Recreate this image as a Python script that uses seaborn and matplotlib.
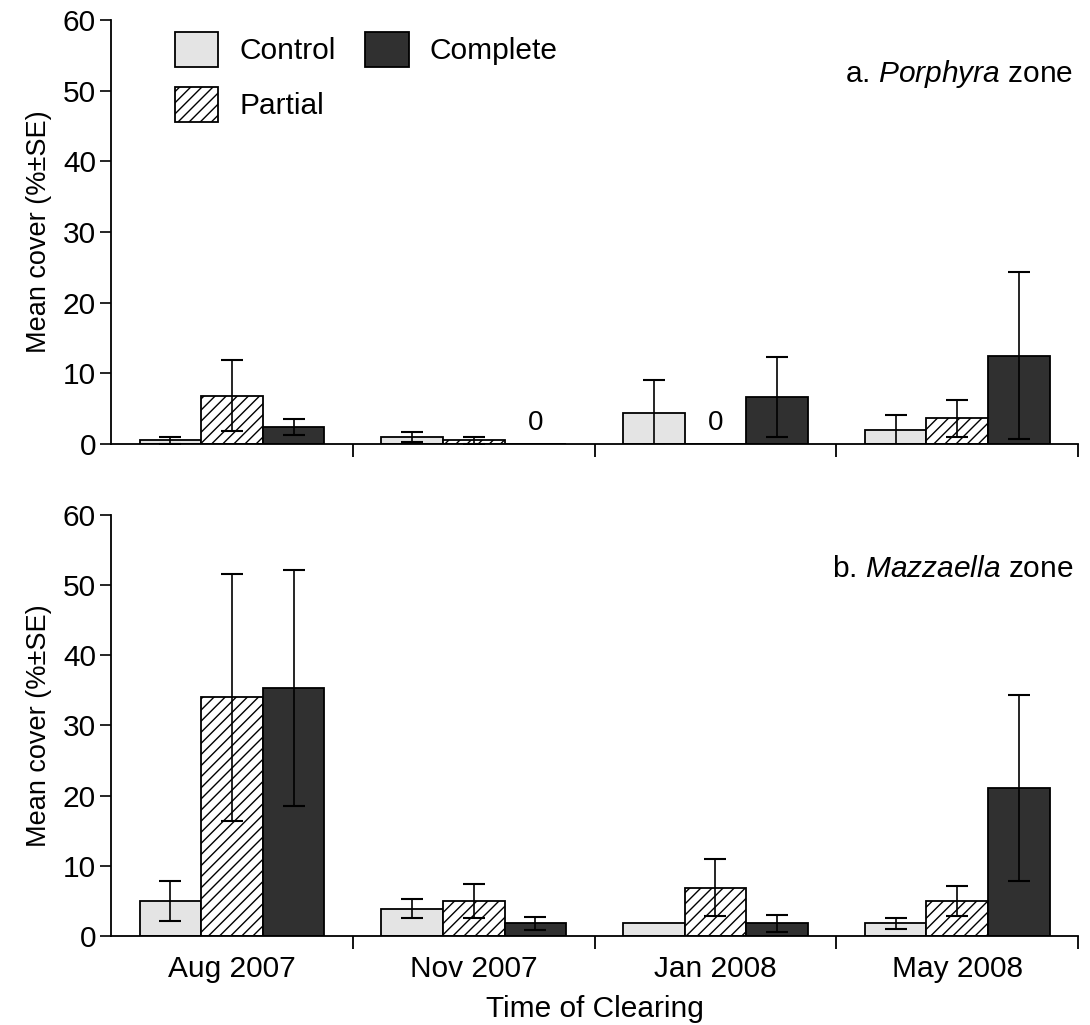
import numpy as np
import pandas as pd
import matplotlib
matplotlib.use("Agg")
import matplotlib.pyplot as plt
from matplotlib.patches import Patch
import seaborn as sns

# ---- data -------------------------------------------------------------
times = ["Aug 2007", "Nov 2007", "Jan 2008", "May 2008"]
treatments = ["Control", "Partial", "Complete"]

# a. Porphyra zone: mean cover (%) and SE, one list per treatment
porphyra_control = [0.5, 1.0, 4.4, 1.9]
porphyra_control_se = [0.5, 0.7, 4.7, 2.2]
porphyra_partial = [6.8, 0.5, 0.0, 3.6]
porphyra_partial_se = [5.0, 0.5, 0.0, 2.6]
porphyra_complete = [2.4, 0.0, 6.6, 12.5]
porphyra_complete_se = [1.1, 0.0, 5.7, 11.8]

# b. Mazzaella zone
mazzaella_control = [5.0, 3.9, 1.8, 1.8]
mazzaella_control_se = [2.9, 1.35, 0.0, 0.8]
mazzaella_partial = [34.0, 5.0, 6.9, 5.0]
mazzaella_partial_se = [17.6, 2.4, 4.1, 2.2]
mazzaella_complete = [35.3, 1.8, 1.8, 21.1]
mazzaella_complete_se = [16.8, 0.9, 1.2, 13.2]

# ---- style ------------------------------------------------------------
sns.set_style("ticks")
plt.rcParams["font.family"] = ["Liberation Sans", "DejaVu Sans"]
plt.rcParams["mathtext.fontset"] = "custom"
plt.rcParams["mathtext.rm"] = "Liberation Sans"
plt.rcParams["mathtext.it"] = "Liberation Sans:italic"
plt.rcParams["hatch.linewidth"] = 1.0
plt.rcParams["hatch.color"] = "black"
for key in ("text.color", "axes.labelcolor", "xtick.color", "ytick.color",
            "axes.edgecolor"):
    plt.rcParams[key] = "black"

face = {"Control": "#e4e4e4", "Partial": "white", "Complete": "#303030"}
hatch = {"Control": None, "Partial": "///", "Complete": None}


def frame(means, ses):
    rows = []
    for trt, m_list, s_list in zip(treatments, means, ses):
        for t, m, s in zip(times, m_list, s_list):
            rows.append({"time": t, "treatment": trt, "mean": m, "se": s})
    return pd.DataFrame(rows)


def draw_panel(ax, df, title_prefix, genus, zero_labels, show_xlabels):
    sns.barplot(data=df, x="time", y="mean", hue="treatment", order=times,
                hue_order=treatments, palette=face, width=0.765,
                edgecolor="black", linewidth=1.3, errorbar=None,
                legend=False, ax=ax)
    for cont, trt in zip(ax.containers, treatments):
        sub = df[df.treatment == trt].set_index("time").loc[times]
        xs = []
        for bar in cont:
            if hatch[trt]:
                bar.set_hatch(hatch[trt])
            xs.append(bar.get_x() + bar.get_width() / 2)
        xs = np.array(xs)
        m = sub["mean"].to_numpy()
        s = sub["se"].to_numpy()
        keep = s > 0
        ax.errorbar(xs[keep], m[keep], yerr=s[keep], fmt="none",
                    ecolor="black", elinewidth=1.2, capsize=8,
                    capthick=1.5, zorder=5)
        for i, t in enumerate(times):
            if (trt, t) in zero_labels:
                ax.text(xs[i], 3.0, "0", ha="center", va="center",
                        fontsize=20)

    ax.set_xlim(-0.5, 3.5)
    ax.set_ylim(0, 60)
    ax.set_yticks(range(0, 61, 10))
    ax.set_xticks(range(len(times)))
    ax.set_xticks([0.5, 1.5, 2.5, 3.5], minor=True)
    if show_xlabels:
        ax.set_xticklabels(times, fontsize=21.5)
        ax.set_xlabel("Time of Clearing", fontsize=21.5, labelpad=8)
    else:
        ax.set_xticklabels([])
        ax.set_xlabel("")
    ax.tick_params(axis="x", which="major", length=0, pad=14)
    ax.tick_params(axis="x", which="minor", length=9, width=1.3,
                   direction="out")
    ax.tick_params(axis="y", length=8, width=1.2, labelsize=21.5, pad=3)
    ax.set_ylabel("Mean cover (%±SE)", fontsize=19.5, labelpad=8)
    sns.despine(ax=ax)
    for sp in ("left", "bottom"):
        ax.spines[sp].set_linewidth(1.3)
    ax.text(3.48, 52.3, rf"{title_prefix} $\it{{{genus}}}$ zone",
            ha="right", va="center", fontsize=21.5)


fig = plt.figure(figsize=(10.9, 10.25), dpi=100)
ax_a = fig.add_axes([0.102, 0.567, 0.887, 0.4135])
ax_b = fig.add_axes([0.102, 0.0868, 0.887, 0.4108])

df_a = frame([porphyra_control, porphyra_partial, porphyra_complete],
             [porphyra_control_se, porphyra_partial_se, porphyra_complete_se])
df_b = frame([mazzaella_control, mazzaella_partial, mazzaella_complete],
             [mazzaella_control_se, mazzaella_partial_se, mazzaella_complete_se])

draw_panel(ax_a, df_a, "a.", "Porphyra",
           {("Complete", "Nov 2007"), ("Partial", "Jan 2008")}, False)
draw_panel(ax_b, df_b, "b.", "Mazzaella", set(), True)

handles = [Patch(facecolor=face[t], edgecolor="black", linewidth=1.3,
                 hatch=hatch[t]) for t in treatments]
ax_a.legend(handles, treatments, loc="upper left",
            bbox_to_anchor=(0.066, 0.972), ncol=2, frameon=False,
            fontsize=21.5, handlelength=1.45, handleheight=1.45,
            handletextpad=0.7, columnspacing=1.0, labelspacing=0.65,
            borderpad=0, borderaxespad=0)

fig.savefig("out.png", dpi=100)
